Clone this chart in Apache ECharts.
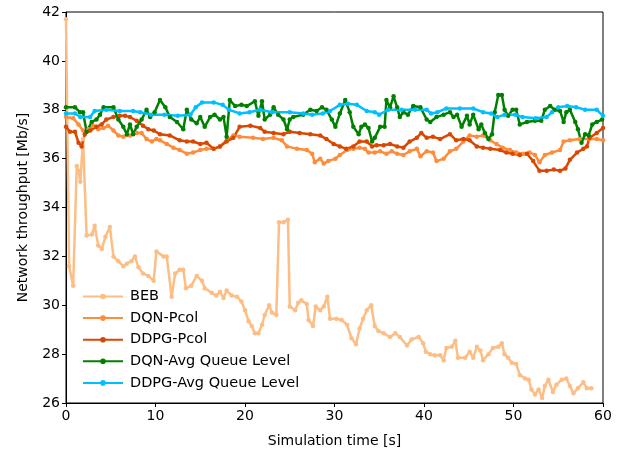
<!DOCTYPE html>
<html lang="en">
<head>
    <meta charset="UTF-8">
    <title>Network throughput</title>
    <style>
        html, body { margin: 0; padding: 0; background: #fff; }
        #main { width: 617px; height: 453px; }
    </style>
    <script src="https://cdn.jsdelivr.net/npm/echarts@6/dist/echarts.min.js"></script>
</head>
<body>
    <div id="main"></div>
    <script>
        // [time (s), throughput (Mb/s)]
        var beb = [[0,41.7],[0.35,31.6],[0.8,30.8],[1.2,35.7],[1.4,35.5],[1.6,35.05],[1.9,36.8],[2.3,32.85],[2.9,32.9],[3.2,33.25],[3.6,32.45],[4.0,32.3],[4.4,32.8],[4.9,33.2],[5.3,32.0],[5.85,31.8],[6.4,31.6],[6.8,31.7],[7.3,31.8],[7.7,32.0],[8.1,31.55],[8.6,31.3],[9.2,31.2],[9.8,31.0],[10.1,32.2],[10.9,32.0],[11.25,32.0],[11.8,30.35],[12.2,31.3],[12.7,31.45],[13.1,31.45],[13.4,30.7],[14.0,30.8],[14.6,31.2],[15.2,31.0],[15.5,30.7],[16.3,30.5],[16.8,30.4],[17.2,30.55],[17.6,30.3],[17.95,30.6],[18.5,30.4],[19.1,30.35],[19.6,30.15],[20.0,29.8],[20.4,29.35],[20.75,29.15],[21.1,28.85],[21.5,28.85],[21.9,29.2],[22.2,29.6],[22.7,30.0],[23.0,29.7],[23.5,29.6],[23.8,33.4],[24.3,33.4],[24.8,33.5],[25.0,29.95],[25.6,29.8],[25.95,30.1],[26.3,30.2],[26.9,30.05],[27.1,29.4],[27.6,29.15],[27.9,29.95],[28.4,29.8],[28.8,29.95],[29.2,30.35],[29.5,29.45],[30.2,29.45],[30.8,29.4],[31.4,29.2],[31.9,28.65],[32.4,28.4],[32.8,29.05],[33.2,29.45],[33.6,29.8],[34.1,30.0],[34.5,29.15],[34.9,28.95],[35.5,28.85],[36.2,28.7],[36.8,28.85],[37.3,28.7],[38.1,28.35],[38.6,28.6],[39.4,28.7],[39.9,28.45],[40.2,28.1],[40.7,28.0],[41.2,27.95],[41.8,27.95],[42.2,27.75],[42.5,28.25],[43.1,28.3],[43.5,28.55],[43.8,27.85],[44.6,27.85],[45.1,28.1],[45.5,27.85],[45.9,28.3],[46.3,28.15],[46.6,27.75],[47.2,28.0],[47.7,28.25],[48.3,28.3],[48.7,28.45],[49.0,28.0],[49.4,27.85],[49.8,27.65],[50.3,27.6],[50.7,27.15],[51.3,27.0],[51.7,26.95],[52.0,26.55],[52.4,26.35],[52.8,26.55],[53.2,26.2],[53.5,26.7],[53.9,26.95],[54.4,26.45],[54.8,26.75],[55.4,26.95],[55.9,27.0],[56.3,26.7],[56.7,26.4],[57.2,26.6],[57.8,26.85],[58.2,26.6],[58.7,26.6]];

        var dqnPcol = [[0,37.7],[0.8,37.65],[1.4,37.4],[1.9,37.15],[2.5,37.2],[3.05,37.35],[3.6,37.2],[4.2,37.25],[4.7,37.35],[5.3,37.15],[5.85,36.95],[6.4,36.9],[7.15,36.95],[7.9,37.05],[8.45,37.05],[9.0,36.8],[9.6,36.7],[10.1,36.8],[10.5,36.75],[11.25,36.6],[12.0,36.45],[12.7,36.35],[13.5,36.2],[14.2,36.25],[15.0,36.35],[15.7,36.4],[16.5,36.4],[17.2,36.5],[17.95,36.75],[18.7,36.95],[19.4,36.9],[20.9,36.85],[22.0,36.8],[23.2,36.85],[24.1,36.75],[24.7,36.5],[25.8,36.4],[26.9,36.35],[27.5,36.2],[27.8,35.85],[28.4,36.0],[28.8,35.8],[29.3,35.9],[30.1,36.0],[30.6,36.15],[31.4,36.35],[32.1,36.4],[32.8,36.45],[33.4,36.4],[33.8,36.25],[34.5,36.25],[35.1,36.3],[35.8,36.2],[36.4,36.3],[37.0,36.2],[37.7,36.15],[38.4,36.3],[39.2,36.4],[39.6,36.1],[40.3,36.3],[41.0,36.25],[41.4,35.9],[42.2,36.0],[42.9,36.3],[43.6,36.4],[44.4,36.7],[45.1,36.95],[45.9,36.9],[46.6,36.95],[47.4,36.75],[48.1,36.6],[48.8,36.45],[49.6,36.35],[50.3,36.25],[51.1,36.2],[51.8,36.25],[52.4,36.15],[52.9,35.85],[53.5,36.15],[54.3,36.25],[55.2,36.35],[55.6,36.7],[56.3,36.75],[57.4,36.8],[58.5,36.8],[59.3,36.8],[60,36.75]];

        var ddpgPcol = [[0,37.3],[0.45,37.1],[1.0,37.1],[1.4,36.65],[1.75,36.5],[2.1,37.0],[2.7,37.15],[3.4,37.3],[3.97,37.4],[4.5,37.6],[5.3,37.7],[6.0,37.75],[6.6,37.75],[7.15,37.7],[7.9,37.55],[8.6,37.35],[9.2,37.2],[9.8,37.15],[10.5,37.0],[11.6,36.95],[12.7,36.75],[13.5,36.7],[14.2,36.7],[15.0,36.6],[15.7,36.65],[16.5,36.4],[17.2,36.5],[17.95,36.7],[18.7,36.85],[19.4,37.3],[20.6,37.35],[21.7,37.25],[22.2,37.1],[23.2,37.05],[24.3,37.0],[25.0,37.1],[26.1,37.05],[27.3,37.0],[28.4,36.95],[29.1,36.8],[29.9,36.6],[30.6,36.5],[31.3,36.4],[32.1,36.5],[32.8,36.7],[33.6,36.7],[34.2,36.5],[34.7,36.55],[35.5,36.55],[36.2,36.6],[37.0,36.5],[37.7,36.45],[38.4,36.7],[39.2,36.85],[39.7,37.05],[40.3,36.85],[41.0,36.9],[41.8,36.8],[42.9,37.0],[43.6,36.75],[44.4,36.8],[45.1,36.75],[45.9,36.5],[46.6,36.45],[47.4,36.4],[48.5,36.35],[49.2,36.25],[49.9,36.2],[50.7,36.15],[51.5,36.2],[52.2,35.9],[52.9,35.5],[53.7,35.5],[54.5,35.55],[55.2,35.5],[55.8,35.6],[56.3,35.95],[57.1,36.25],[57.8,36.4],[58.2,36.5],[58.5,36.85],[59.3,37.05],[60,37.25]];

        var dqnQueue = [[0,38.1],[1.0,38.1],[1.56,37.9],[1.9,37.9],[2.3,37.1],[2.87,37.5],[3.4,37.6],[3.8,37.8],[4.2,38.1],[5.3,38.1],[5.85,37.6],[6.4,37.3],[6.8,37.0],[7.15,37.4],[7.5,37.0],[7.9,37.3],[8.45,37.6],[9.0,38.0],[9.4,37.7],[9.9,37.9],[10.5,38.4],[11.1,38.1],[11.6,37.7],[12.4,37.5],[13.1,37.2],[13.5,38.0],[14.0,37.6],[14.6,37.45],[15.0,37.7],[15.5,37.3],[16.1,37.7],[16.6,37.8],[17.2,37.6],[17.6,37.7],[17.95,36.9],[18.3,38.4],[18.9,38.15],[19.6,38.2],[20.2,38.15],[21.1,38.35],[21.5,37.75],[21.9,38.35],[22.2,37.6],[22.8,37.8],[23.2,38.1],[23.7,37.8],[24.3,37.6],[24.7,37.2],[25.0,37.6],[25.4,37.7],[26.5,37.8],[27.3,38.0],[28.0,37.95],[28.6,38.1],[29.1,38.0],[29.7,37.6],[30.1,37.3],[30.6,37.85],[31.2,38.4],[31.7,37.9],[32.1,37.3],[32.7,37.0],[33.0,37.3],[33.4,37.4],[33.8,37.25],[34.2,36.7],[34.5,36.85],[35.1,37.3],[35.6,37.3],[35.8,38.4],[36.2,38.1],[36.6,38.55],[37.0,38.1],[37.3,37.7],[37.7,37.9],[38.2,37.8],[38.8,38.15],[39.6,38.1],[40.3,37.6],[40.7,37.5],[41.4,37.7],[42.2,37.8],[42.9,37.9],[43.3,37.7],[43.7,37.8],[44.2,37.3],[44.8,37.75],[45.1,37.4],[45.5,37.8],[46.1,37.2],[46.4,37.4],[46.8,37.05],[47.2,36.8],[47.6,37.0],[47.9,37.9],[48.3,38.6],[48.7,38.6],[49.0,38.0],[49.4,37.75],[49.9,38.0],[50.3,38.0],[50.7,37.4],[51.5,37.5],[52.4,37.55],[53.1,37.55],[53.5,38.0],[54.1,38.15],[54.6,38.0],[55.2,37.95],[55.6,37.5],[55.9,37.9],[56.3,38.0],[56.9,37.5],[57.2,37.2],[57.6,36.65],[58.0,37.0],[58.4,36.95],[58.8,37.4],[59.3,37.5],[59.9,37.6]];

        var ddpgQueue = [[0,37.85],[1.0,37.85],[1.6,37.7],[2.7,37.7],[3.2,37.95],[4.5,38.0],[6.0,37.95],[7.5,37.95],[8.3,37.9],[9.5,37.8],[11.0,37.8],[12.5,37.75],[13.9,37.8],[14.5,38.1],[15.2,38.3],[16.5,38.3],[17.5,38.2],[18.2,38.0],[19.4,37.85],[20.5,37.9],[21.7,38.0],[23.0,37.9],[25.0,37.9],[26.5,37.85],[27.5,37.8],[28.7,37.85],[29.5,37.95],[30.6,38.2],[31.5,38.25],[32.5,38.2],[33.6,37.95],[34.5,37.9],[35.0,37.8],[36.0,38.0],[37.5,38.0],[39.0,38.0],[40.3,38.0],[40.8,37.85],[41.5,37.9],[42.5,38.05],[44.0,38.05],[45.5,38.05],[46.6,37.9],[47.5,37.85],[48.2,37.7],[49.0,37.8],[50.2,37.8],[51.0,37.7],[52.5,37.65],[53.7,37.7],[54.3,37.9],[55.0,38.1],[56.0,38.15],[57.0,38.1],[58.0,38.0],[59.3,38.0],[60,37.75]];

        var xTicks = { min: 0, max: 60, step: 10 };
        var yTicks = { min: 26, max: 42, step: 2 };

        var font = 'DejaVu Sans';

        function lineSeries(name, data, color) {
            return {
                name: name,
                type: 'line',
                data: data,
                symbol: 'circle',
                symbolSize: 4.5,
                showSymbol: true,
                lineStyle: { width: 2.5, color: color },
                itemStyle: { color: color },
                emphasis: { disabled: true },
                animation: false
            };
        }

        var myChart = echarts.init(document.getElementById('main'), null, { renderer: 'canvas' });

        var option = {
            backgroundColor: '#fff',
            animation: false,
            grid: {
                left: 66, top: 12, width: 537, height: 393,
                show: true, borderColor: '#000', borderWidth: 1, backgroundColor: 'transparent'
            },
            legend: {
                orient: 'vertical',
                left: 77,
                top: 284,
                itemWidth: 40,
                itemHeight: 7,
                itemGap: 6.6,
                textStyle: { fontFamily: font, fontSize: 14.5, color: '#000', padding: [0, 0, 0, 2] },
                data: ['BEB', 'DQN-Pcol', 'DDPG-Pcol', 'DQN-Avg Queue Level', 'DDPG-Avg Queue Level']
            },
            xAxis: {
                type: 'value',
                min: xTicks.min, max: xTicks.max, interval: xTicks.step,
                name: 'Simulation time [s]',
                nameLocation: 'middle',
                nameGap: 31,
                nameTextStyle: { fontFamily: font, fontSize: 14, color: '#000' },
                axisLine: { show: true, onZero: false, lineStyle: { color: '#000', width: 1 } },
                axisTick: { show: true, inside: false, length: 4, lineStyle: { color: '#000' } },
                axisLabel: { fontFamily: font, fontSize: 14, color: '#000', margin: 6 },
                splitLine: { show: false }
            },
            yAxis: {
                type: 'value',
                min: yTicks.min, max: yTicks.max, interval: yTicks.step,
                name: 'Network throughput [Mb/s]',
                nameLocation: 'middle',
                nameGap: 36,
                nameTextStyle: { fontFamily: font, fontSize: 14, color: '#000' },
                axisLine: { show: true, onZero: false, lineStyle: { color: '#000', width: 1 } },
                axisTick: { show: true, inside: false, length: 4, lineStyle: { color: '#000' } },
                axisLabel: { fontFamily: font, fontSize: 14, color: '#000', margin: 6 },
                splitLine: { show: false }
            },
            series: [
                lineSeries('BEB', beb, '#fdbe85'),
                lineSeries('DQN-Pcol', dqnPcol, '#fd8d3c'),
                lineSeries('DDPG-Pcol', ddpgPcol, '#d94801'),
                lineSeries('DQN-Avg Queue Level', dqnQueue, '#008000'),
                lineSeries('DDPG-Avg Queue Level', ddpgQueue, '#00bfff')
            ]
        };

        myChart.setOption(option);
    </script>
</body>
</html>
